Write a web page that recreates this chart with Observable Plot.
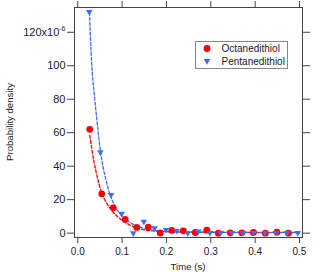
<!DOCTYPE html>
<html>
<head>
<meta charset="utf-8">
<script src="https://cdn.jsdelivr.net/npm/d3@7"></script>
<script src="https://cdn.jsdelivr.net/npm/@observablehq/plot@0.6"></script>
<style>
  html, body { margin: 0; padding: 0; background: white; }
  svg { display: block; }
</style>
</head>
<body>
<div id="chart"></div>
<script>
const seriesNames = ["Octanedithiol", "Pentanedithiol"];
const seriesColors = ["#ff0000", "#3f6cff"];

// Octanedithiol histogram (Probability density ×10^-6)
const octTime  = [0.027, 0.054, 0.080, 0.107, 0.133, 0.159, 0.186, 0.212, 0.238, 0.265, 0.291, 0.317, 0.344, 0.370, 0.396, 0.423, 0.449, 0.475];
const octValue = [62.0, 23.5, 15.1, 8.2, 3.4, 3.6, 0.1, 1.6, 1.4, 0.4, 1.8, 0.0, 0.2, 0.2, 0.4, 0.0, 0.6, 0.0];

// Pentanedithiol histogram
const pentTime  = [0.026, 0.051, 0.075, 0.099, 0.125, 0.149, 0.173, 0.199, 0.223, 0.248, 0.272, 0.298, 0.322, 0.347, 0.372, 0.397, 0.422, 0.447, 0.472, 0.496];
const pentValue = [132.1, 48.4, 22.9, 11.6, 0.0, 6.8, 3.0, 2.0, 1.4, 0.0, 1.0, 0.2, 0.2, 0.2, 0.2, 0.2, 0.2, 0.2, 0.2, 0.2];

// Fitted decay curves
const octFitTime  = [0.027, 0.036, 0.044, 0.0534, 0.066, 0.0775, 0.092, 0.115, 0.137, 0.17, 0.25, 0.5];
const octFitValue = [58.4, 43.5, 33.5, 24.5, 17.6, 13.2, 9.4, 5.2, 2.8, 1.3, 0.6, 0.4];
const pentFitTime  = [0.0264, 0.031, 0.0376, 0.0437, 0.0511, 0.0624, 0.0736, 0.085, 0.1, 0.1225, 0.145, 0.18, 0.25, 0.5];
const pentFitValue = [132, 103, 82, 66, 49, 33, 22.5, 15.5, 10.2, 5.6, 3.2, 1.5, 0.6, 0.3];

const xTicks = [0, 0.1, 0.2, 0.3, 0.4, 0.5];
const yTicks = [0, 20, 40, 60, 80, 100, 120];
const xTitle = "Time (s)";
const yTitle = "Probability density";

const toRows = (t, v) => t.map((d, i) => ({t: d, v: v[i]}));
const oct = toRows(octTime, octValue);
const pent = toRows(pentTime, pentValue);
const octFit = toRows(octFitTime, octFitValue);
const pentFit = toRows(pentFitTime, pentFitValue);

const axisColor = "#444";
const W = 327, H = 273, mL = 74, mR = 25, mT = 7, mB = 36;

const chart = Plot.plot({
  width: W, height: H,
  marginLeft: mL, marginRight: mR, marginTop: mT, marginBottom: mB,
  style: {fontFamily: "'Liberation Sans', Arial, sans-serif", fontSize: "10px", color: "#222", background: "white"},
  x: {domain: [-0.0074, 0.5068]},
  y: {domain: [-2.6, 134.8]},
  marks: [
    Plot.axisX({anchor: "bottom", ticks: xTicks, tickFormat: ".1f", tickSize: 6, tickPadding: 4, label: null, stroke: axisColor, fontSize: 10}),
    Plot.axisX({anchor: "top", ticks: xTicks, tickFormat: () => "", tickSize: 7, label: null, stroke: axisColor}),
    Plot.axisY({anchor: "left", ticks: yTicks, tickFormat: d => d === 120 ? "120x10" : String(d), tickSize: 7, tickPadding: 2, label: null, stroke: axisColor, fontSize: 11}),
    Plot.axisY({anchor: "right", ticks: yTicks, tickFormat: () => "", tickSize: 7, label: null, stroke: axisColor}),
    Plot.line(octFit, {x: "t", y: "v", stroke: seriesColors[0], strokeWidth: 1.3, strokeDasharray: "3,2", curve: "monotone-x"}),
    Plot.line(pentFit, {x: "t", y: "v", stroke: seriesColors[1], strokeWidth: 1.3, strokeDasharray: "3,2", curve: "monotone-x"}),
    Plot.dot(oct, {x: "t", y: "v", r: 3.4, fill: seriesColors[0], stroke: "none"}),
    Plot.dot(pent, {x: "t", y: "v", r: 2.45, symbol: "triangle", rotate: 180, fill: seriesColors[1], stroke: "none"}),
    Plot.frame({stroke: axisColor, strokeWidth: 1})
  ]
});

const svg = d3.select(chart);

// superscript exponent on the 120 tick
svg.selectAll("text").filter(function() { return this.textContent === "120x10"; })
  .append("tspan").attr("dy", "-4.5").attr("font-size", 7).text("-6");

// axis titles
svg.append("text")
  .attr("x", (mL + (W - mR)) / 2).attr("y", 270)
  .attr("text-anchor", "middle").attr("font-size", 9.6).attr("fill", "#222")
  .text(xTitle);
svg.append("text")
  .attr("transform", `translate(13,${(mT + (H - mB)) / 2}) rotate(-90)`)
  .attr("text-anchor", "middle").attr("font-size", 9.6).attr("fill", "#222")
  .text(yTitle);

// legend
const lg = svg.append("g").attr("font-size", 10).attr("fill", "#222").attr("text-anchor", "start");
lg.append("rect").attr("x", 195.5).attr("y", 41.5).attr("width", 92).attr("height", 27)
  .attr("fill", "white").attr("stroke", "#888").attr("stroke-width", 1);
lg.append("circle").attr("cx", 207).attr("cy", 48.5).attr("r", 3.4).attr("fill", seriesColors[0]);
lg.append("path").attr("d", d3.symbol(d3.symbolTriangle, 18.8)()).attr("transform", "translate(207,61) rotate(180)").attr("fill", seriesColors[1]);
lg.append("text").attr("x", 221.5).attr("y", 48.5).attr("dy", "0.35em").attr("text-anchor", "start").text(seriesNames[0]);
lg.append("text").attr("x", 221.5).attr("y", 61).attr("dy", "0.35em").attr("text-anchor", "start").text(seriesNames[1]);

document.getElementById("chart").appendChild(chart);
</script>
</body>
</html>
